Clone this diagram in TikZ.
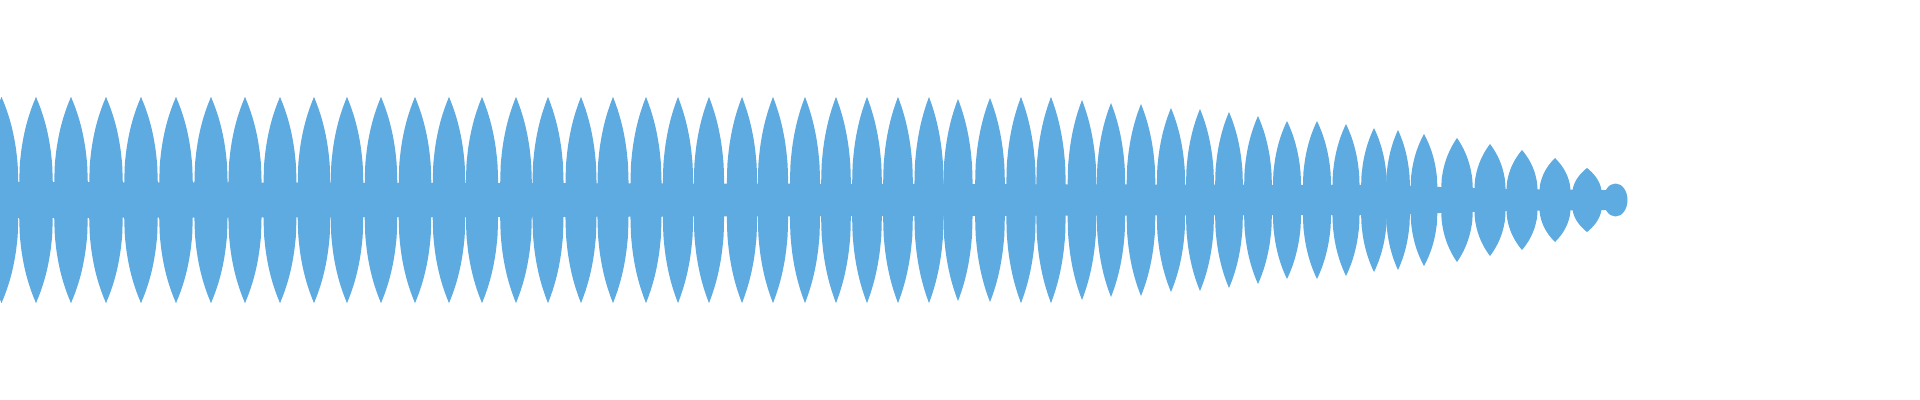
\documentclass[tikz,border=0pt]{standalone}
\begin{document}
\begin{tikzpicture}[x=0.01cm,y=-0.01cm]
\definecolor{wave}{RGB}{93,171,224}
\tikzset{wavefill/.style={fill=wave,draw=none}}
\useasboundingbox (0,0) rectangle (1920,400);
\clip (0,0) rectangle (1920,400);
\def\lobes{1.5/103/17.5, 36/103/17.5, 71/103/17.5, 106/103/17.5, 141/103/17.5, 176/103/17.5, 211/103/17.3, 245/103/17.3, 280/103/17.2, 314/103/17, 347/103/17, 381/103/17, 415/103/17, 449/103/17, 482/103/16.8, 516/103/16.5, 548/103/16.2, 581/103/16.2, 613/103/16.2, 646/103/16.2, 678/103/15.8, 709/103/15.8, 742/103/15.8, 773/103/15.8, 805/103/15.7, 836/103/15.5, 867/103/15.5, 898/103/15.5, 929/103/15.2, 958/101/15.2, 990/102/15.5, 1021/103/15.3, 1051/103/15.3, 1082/100/15, 1111/97/14.8, 1141/96/15, 1171/92/14.8, 1200/91/14.6, 1229/88/14.5, 1258/84/14.5, 1287/79/14.7, 1317/79/14.7, 1346/76/14.2, 1374/72/13.5, 1398/70/12.5, 1424/66/14, 1457/62/16.5, 1490/56/16.3, 1522/50/16.3, 1555/42/16.3, 1587/32/15.5}
% neck band
\fill[wavefill] (0,182) -- (1380,185) -- (1500,189) -- (1600,190) -- (1610,190) -- (1610,210) -- (1600,210) -- (1500,211) -- (1380,215) -- (0,218) -- cycle;
\foreach \c/\a/\w in \lobes {
  \fill[wavefill] plot[domain=-1:1,samples=41,smooth] ({\c+0.98*\w*\x},{200-\a*(1-abs(\x))^0.38})
    -- plot[domain=1:-1,samples=41,smooth] ({\c+0.98*\w*\x},{200+\a*(1-abs(\x))^0.38}) -- cycle;
}
\fill[wavefill] (1615.5,200) ellipse[x radius=12,y radius=16.5];
\end{tikzpicture}
\end{document}
